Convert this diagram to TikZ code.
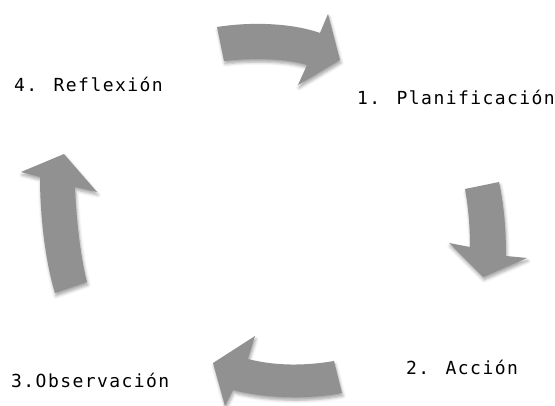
\documentclass[tikz,border=0pt]{standalone}
\usepackage{fontspec}
\newfontfamily\stagefont[LetterSpace=8]{DejaVu Sans Mono}
\usetikzlibrary{shadows.blur}

\definecolor{arrowgray}{RGB}{145,145,145}

\tikzset{
  cyclearrow/.style={fill=arrowgray, draw=none,
    blur shadow={shadow xshift=1pt, shadow yshift=-3pt, shadow blur radius=3pt, shadow opacity=35}},
  stage/.style={anchor=base west, inner sep=0pt, font=\stagefont\fontsize{18}{20}\selectfont}
}

\begin{document}
\begin{tikzpicture}[x=1pt, y=-1pt]
  \useasboundingbox (0,0) rectangle (555,406);

  % Stage labels around the cycle.
  \node[stage] (plan) at (357,105) {1. Planificación};
  \node[stage] (accion) at (406,375) {2. Acción};
  \node[stage] (obs) at (11,388) {3.Observación};
  \node[stage] (refl) at (14,92) {4. Reflexión};

  % Curved block arrows, clockwise.
  \fill[cyclearrow] (217,27) .. controls (255,21) and (295,24) .. (320,33)
    -- (328,14) -- (340,60) -- (298,85) -- (307,65)
    .. controls (285,58) and (250,58) .. (224,61) -- cycle;

  \fill[cyclearrow] (465,189) -- (499,182)
    .. controls (504,205) and (506,230) .. (506,256)
    -- (527,258) -- (483,277) -- (449,243) -- (470,247)
    .. controls (470,225) and (468,205) .. (465,189) -- cycle;

  \fill[cyclearrow] (334,361) -- (342,393)
    .. controls (305,400) and (265,398) .. (233,390)
    -- (225,406) -- (213,363) -- (255,336) -- (248,359)
    .. controls (275,366) and (305,366) .. (334,361) -- cycle;

  \fill[cyclearrow] (55,293) -- (87,282)
    .. controls (80,255) and (76,215) .. (75,187)
    -- (97,192) -- (64,154) -- (21,172) -- (40,177)
    .. controls (40,215) and (45,260) .. (55,293) -- cycle;
\end{tikzpicture}
\end{document}
